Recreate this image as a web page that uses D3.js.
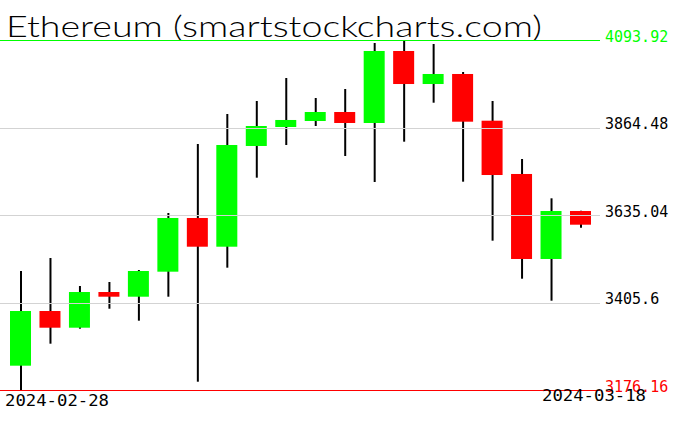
<!DOCTYPE html>
<html>
<head>
<meta charset="utf-8">
<script src="https://cdn.jsdelivr.net/npm/d3@7"></script>
<style>
  html, body { margin: 0; padding: 0; background: #fff; }
  svg { display: block; }
</style>
</head>
<body>
<svg id="chart" width="676" height="431"></svg>
<script>
const titleText = "Ethereum (smartstockcharts.com)";
const dates = ["2024-02-28","2024-02-29","2024-03-01","2024-03-02","2024-03-03","2024-03-04","2024-03-05",
  "2024-03-06","2024-03-07","2024-03-08","2024-03-09","2024-03-10","2024-03-11","2024-03-12","2024-03-13",
  "2024-03-14","2024-03-15","2024-03-16","2024-03-17","2024-03-18"];
const opens  = [3239.9, 3383.3, 3339.5, 3433.1, 3420.8, 3486.4, 3627.2, 3551.9, 3816.0, 3865.8,
                3881.5, 3905.1, 3876.3, 4065.1, 3978.5, 4004.8, 3882.3, 3742.6, 3519.7, 3645.5];
const highs  = [3488.2, 3522.3, 3448.9, 3459.4, 3490.8, 3640.3, 3821.2, 3899.9, 3934.0, 3994.3,
                3941.8, 3965.4, 4086.1, 4093.92, 4083.4, 4010.0, 3934.0, 3781.9, 3678.8, 3646.5];
const lows   = [3176.16, 3297.6, 3336.9, 3389.3, 3357.9, 3420.8, 3197.9, 3496.9, 3732.9, 3818.6,
                3868.4, 3789.8, 3721.6, 3827.3, 3929.5, 3722.4, 3567.7, 3468.0, 3410.3, 3601.7];
const closes = [3383.3, 3339.5, 3433.1, 3420.8, 3488.2, 3627.2, 3551.9, 3818.6, 3868.4, 3884.2,
                3905.1, 3876.3, 4065.1, 3978.5, 4004.8, 3879.7, 3739.9, 3519.7, 3645.5, 3609.6];
const yTicks = [3176.16, 3405.6, 3635.04, 3864.48, 4093.92];

const svg = d3.select("#chart");
const candles = dates.map((d, i) => ({date: d, o: opens[i], h: highs[i], l: lows[i], c: closes[i]}));

const x = d3.scalePoint().domain(dates).range([20.5, 580.5]);
const y = d3.scaleLinear().domain([3176.16, 4093.92]).range([390, 40]);
const bodyW = 21;

// title
svg.append("text")
  .attr("x", 6).attr("y", 37)
  .attr("font-family", "Lato, 'DejaVu Sans', sans-serif")
  .attr("font-weight", 300)
  .attr("font-size", 30)
  .attr("textLength", 536)
  .attr("lengthAdjust", "spacingAndGlyphs")
  .attr("fill", "#000")
  .text(titleText);

// wicks
svg.append("g").selectAll("line").data(candles).join("line")
  .attr("x1", d => x(d.date) + 0.5).attr("x2", d => x(d.date) + 0.5)
  .attr("y1", d => y(d.h)).attr("y2", d => y(d.l))
  .attr("stroke", "#000").attr("stroke-width", 2);

// bodies
svg.append("g").selectAll("rect").data(candles).join("rect")
  .attr("x", d => x(d.date) - bodyW / 2)
  .attr("width", bodyW)
  .attr("y", d => y(Math.max(d.o, d.c)))
  .attr("height", d => Math.max(1, Math.abs(y(d.o) - y(d.c))))
  .attr("fill", d => d.c >= d.o ? "#00ff00" : "#ff0000");

// right axis with gridlines
const axis = d3.axisRight(y)
  .tickValues(yTicks)
  .tickSizeInner(-600)
  .tickSizeOuter(0)
  .tickPadding(5)
  .tickFormat(d => String(d));
const ag = svg.append("g").attr("transform", "translate(600,0)").call(axis);
ag.select(".domain").remove();
const tickColor = d => d === 4093.92 ? "#00ff00" : d === 3176.16 ? "#ff0000" : "#d3d3d3";
const labelColor = d => d === 4093.92 ? "#00ff00" : d === 3176.16 ? "#ff0000" : "#000";
ag.selectAll(".tick line").attr("stroke", tickColor).attr("stroke-width", 1)
  .attr("shape-rendering", "crispEdges");
ag.selectAll(".tick text")
  .attr("fill", labelColor)
  .attr("dy", 1)
  .attr("font-family", "'DejaVu Sans Mono', monospace")
  .attr("font-size", 15);

// date labels
svg.append("text")
  .attr("x", 5).attr("y", 406)
  .attr("font-family", "'DejaVu Sans Mono', monospace")
  .attr("font-size", 15)
  .attr("textLength", 104).attr("lengthAdjust", "spacingAndGlyphs")
  .attr("fill", "#000")
  .text(dates[0]);
svg.append("text")
  .attr("x", 542).attr("y", 401)
  .attr("font-family", "'DejaVu Sans Mono', monospace")
  .attr("font-size", 15)
  .attr("textLength", 104).attr("lengthAdjust", "spacingAndGlyphs")
  .attr("fill", "#000")
  .text(dates[dates.length - 1]);
</script>
</body>
</html>
